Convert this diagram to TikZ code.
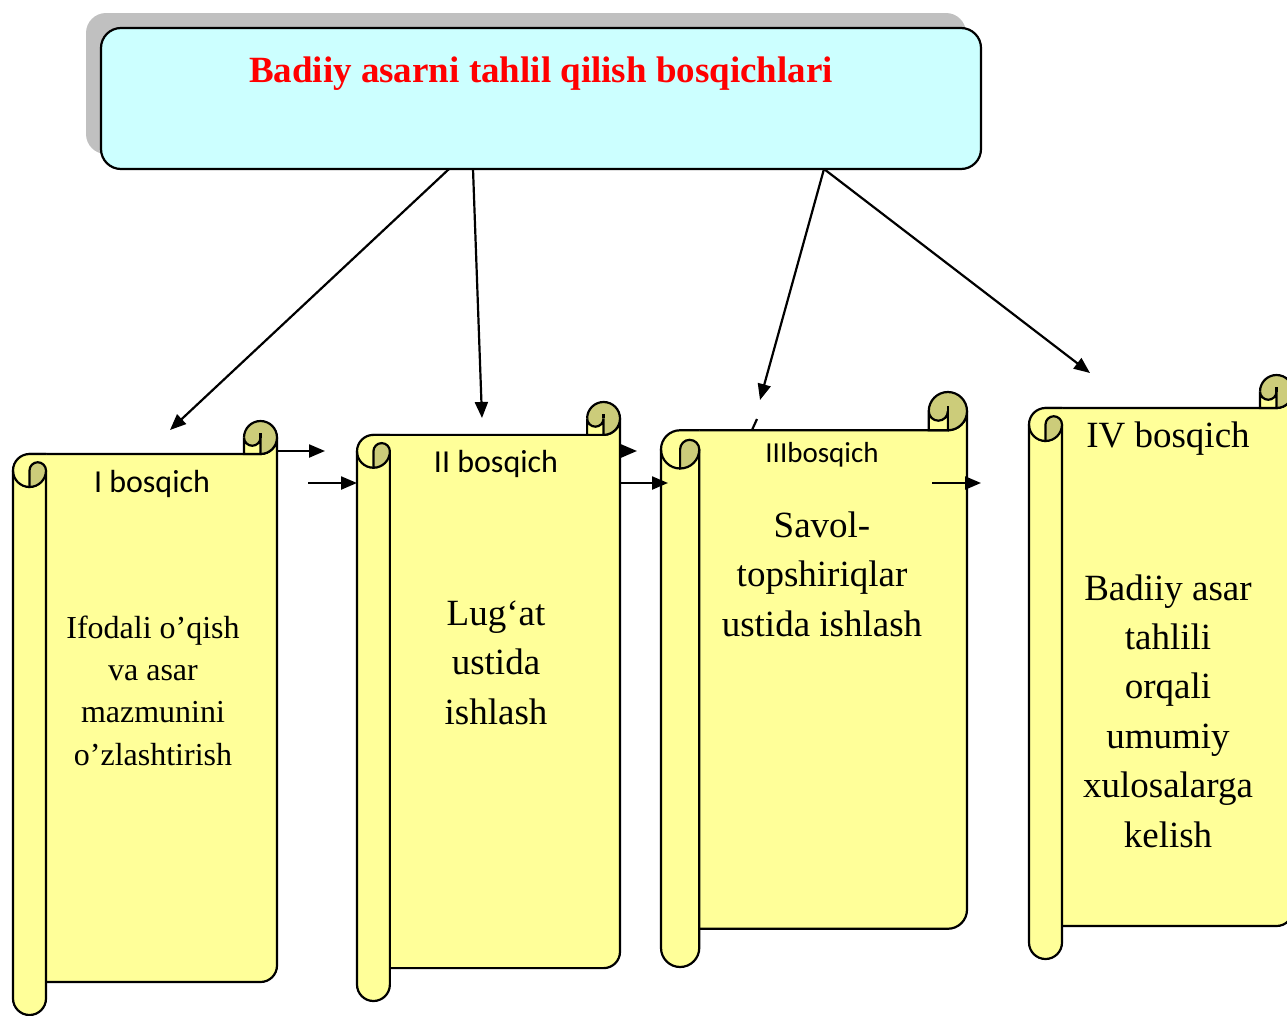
\documentclass[tikz,border=0pt]{standalone}
\usepackage{fontspec}
\setmainfont{Liberation Serif}
\newfontfamily\calibri{Carlito}
\usetikzlibrary{arrows.meta}

\definecolor{scrollyellow}{HTML}{FFFF99}
\definecolor{scrolldark}{HTML}{CCCC7A}
\definecolor{titlecyan}{HTML}{CCFFFF}
\definecolor{shadowgray}{HTML}{C0C0C0}

% vertical scroll: #1 left, #2 top, #3 width, #4 height (y grows downwards)
\newcommand{\scroll}[4]{%
  \pgfmathsetmacro\scL{#1}
  \pgfmathsetmacro\scT{#2}
  \pgfmathsetmacro\scR{#1+#3}
  \pgfmathsetmacro\scB{#2+#4}
  \pgfmathsetmacro\scC{#3/8}
  \pgfmathsetmacro\scH{#3/16}
  \pgfmathsetmacro\scQ{#3/32}
  % body
  \filldraw[scrollline, fill=scrollyellow] (\scL+\scH,\scT+\scC) -- (\scR-\scH,\scT+\scC)
    arc[start angle=90, end angle=0, radius=\scH] -- (\scR,\scB-\scC-\scH)
    arc[start angle=0, end angle=90, radius=\scH] -- (\scL+\scH,\scB-\scC) -- cycle;
  % top roll
  \fill[scrolldark] (\scR-\scH,\scT+\scH) circle[radius=\scH];
  \draw[scrollline] (\scR-\scC,\scT+\scH) arc[start angle=180, end angle=450, radius=\scH];
  \filldraw[scrollline, fill=scrollyellow] (\scR-\scC,\scT+\scH)
    arc[start angle=180, end angle=0, radius=\scQ] -- (\scR-\scH,\scT+\scC) -- (\scR-\scC,\scT+\scC) -- cycle;
  \draw[scrollline] (\scR-\scH,\scT+\scH-0.5*\scQ) -- (\scR-\scH,\scT+\scH);
  % left roll
  \fill[scrollyellow] (\scL,\scB-\scH) -- (\scL,\scT+\scC+\scH)
    arc[start angle=180, end angle=270, radius=\scH] -- (\scL+\scC,\scT+\scC) -- (\scL+\scC,\scB-\scH)
    arc[start angle=0, end angle=180, radius=\scH] -- cycle;
  \draw[scrollline] (\scL+\scC,\scT+\scC+\scH) -- (\scL+\scC,\scB-\scH)
    arc[start angle=0, end angle=180, radius=\scH] -- (\scL,\scT+\scC+\scH)
    arc[start angle=180, end angle=270, radius=\scH] -- (\scL+\scC,\scT+\scC);
  \filldraw[scrollline, fill=scrolldark] (\scL+\scH,\scT+\scC+\scH)
    arc[start angle=180, end angle=360, radius=\scQ]
    arc[start angle=0, end angle=90, radius=\scH] -- cycle;
  \draw[scrollline] (\scL,\scT+\scC+\scH) arc[start angle=180, end angle=90, radius=\scH];
}

\begin{document}
\begin{tikzpicture}[x=1pt,y=-1pt,>={Triangle[length=16pt,width=13pt]},
    scrollline/.style={draw=black, line width=2.2pt},
    titlebox/.style={draw, line width=2.2pt, fill=titlecyan, rounded corners=20pt,
      minimum width=880pt, minimum height=141pt, inner sep=0pt},
    stage/.style={anchor=base, inner sep=0pt},
    stagetext/.style={anchor=base, inner sep=0pt, align=center},
    link/.style={->, line width=2.2pt}]
  \useasboundingbox (0,0) rectangle (1287,1015);

  % header
  \fill[shadowgray, rounded corners=20pt] (86,13) rectangle (966,154);
  \node[titlebox] (top) at (541,98.5) {};
  \node[anchor=base, text=red, font=\bfseries\fontsize{37}{44}\selectfont] (toptext) at (541,82)
    {Badiiy asarni tahlil qilish bosqichlari};

  % scrolls
  \scroll{13}{421}{264}{594}
  \scroll{357}{402}{263}{599}
  \scroll{661}{392}{306}{575}
  \scroll{1029}{375}{264}{584}

  \node[stage, font=\calibri\fontsize{32}{38}\selectfont] (s1) at (152,492) {I bosqich};
  \node[stage, font=\calibri\fontsize{32}{38}\selectfont] (s2) at (496,472) {II bosqich};
  \node[stage, font=\calibri\fontsize{29}{35}\selectfont] (s3) at (822,462) {IIIbosqich};
  \node[stage, font=\fontsize{37}{44}\selectfont] (s4) at (1168,447) {IV bosqich};

  % base anchor = last line
  \node[stagetext, font=\fontsize{32}{42.3}\selectfont] (t1) at (153,765)
    {Ifodali o’qish\\va asar\\mazmunini\\o’zlashtirish};
  \node[stagetext, font=\fontsize{37}{49.5}\selectfont] (t2) at (496,724)
    {Lug‘at\\ustida\\ishlash};
  \node[stagetext, font=\fontsize{37}{49.5}\selectfont] (t3) at (822,636)
    {Savol-\\topshiriqlar\\ustida ishlash};
  \node[stagetext, font=\fontsize{37}{49.4}\selectfont] (t4) at (1168,847)
    {Badiiy asar\\tahlili\\orqali\\umumiy\\xulosalarga\\kelish};

  % connectors
  \coordinate (a1) at (449,169);
  \coordinate (a2) at (473,169);
  \coordinate (a3) at (824,169);
  \coordinate (in1) at (170,430);
  \coordinate (in2) at (482,418);
  \coordinate (in3) at (760,400);
  \coordinate (in4) at (1090,373);
  \coordinate (d3a) at (757,419);
  \coordinate (d3b) at (752,430);

  \draw[link] (a1) -- (in1);
  \draw[link] (a2) -- (in2);
  \draw[link] (a3) -- (in3);
  \draw[link] (a3) -- (in4);
  \draw[line width=2.2pt] (d3a) -- (d3b);

  \coordinate (h1a) at (277,451);
  \coordinate (h1b) at (325,451);
  \coordinate (h2a) at (308,483);
  \coordinate (h2b) at (357,483);
  \coordinate (h3a) at (621,451);
  \coordinate (h3b) at (637,451);
  \coordinate (h4a) at (621,483);
  \coordinate (h4b) at (668,483);
  \coordinate (h5a) at (932,483);
  \coordinate (h5b) at (981,483);

  \draw[link] (h1a) -- (h1b);
  \draw[link] (h2a) -- (h2b);
  \draw[link] (h3a) -- (h3b);
  \draw[link] (h4a) -- (h4b);
  \draw[link] (h5a) -- (h5b);
\end{tikzpicture}
\end{document}
